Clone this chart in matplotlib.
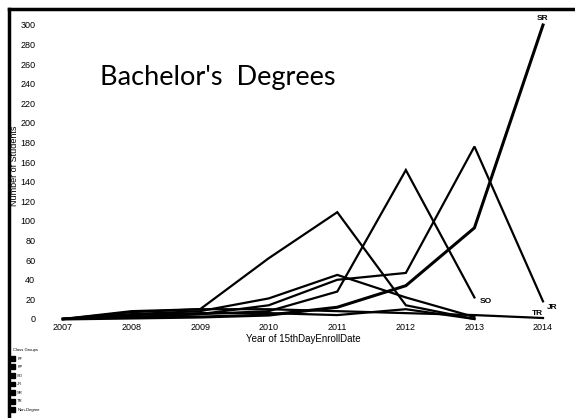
import numpy as np
import matplotlib
matplotlib.use('Agg')
from matplotlib import pyplot as plt
from matplotlib.patches import Patch
from matplotlib.lines import Line2D

years = [2007, 2008, 2009, 2010, 2011, 2012, 2013, 2014]
nan = np.nan

# students by class group
ff = [0, 7, 10, 62, 109, 14, 0, nan]
fp = [0, 5, 8, 21, 45, 22, 2, nan]
so = [0, 2, 5, 8, 28, 152, 22, nan]
jr = [0, 2, 5, 14, 40, 47, 176, 18]
sr = [0, 1, 2, 4, 12, 34, 93, 300]
tr = [0, 8, 10, 10, 8, 6, 4, 1]
nondeg = [0, 4, 6, 6, 4, 10, 0, nan]

groups = ['FF', 'FP', 'SO', 'JR', 'SR', 'TR', 'Non-Degree']
series = [ff, fp, so, jr, sr, tr, nondeg]
yticks = list(range(0, 301, 20))

plt.rcParams['font.family'] = ['Liberation Sans', 'DejaVu Sans']

fig = plt.figure(figsize=(5.75, 4.18), dpi=100)
ax = fig.add_axes([63 / 575, 99 / 418, 480 / 575, 294 / 418])

for name, vals in zip(groups, series):
    lw = 2.2 if name == 'SR' else 1.6
    ax.plot(years, vals, color='black', linewidth=lw, clip_on=False,
            solid_joinstyle='miter')

ax.set_xlim(2007, 2014)
ax.set_ylim(0, 300)
ax.set_xticks(years)
ax.set_yticks(yticks)
ax.tick_params(length=0, labelsize=6.5)
ax.tick_params(axis='y', pad=20)
ax.tick_params(axis='x', pad=3)
for s in ax.spines.values():
    s.set_visible(False)

ax.set_xlabel('Year of 15thDayEnrollDate', fontsize=7, labelpad=1)
fig.text(15 / 575, 1 - 166 / 418, 'Number of Students', rotation=90,
         fontsize=6.5, ha='center', va='center')

# end-of-line labels
ax.text(2014, sr[7] + 3, 'SR', fontsize=6, fontweight='bold', ha='center', va='bottom')
ax.text(2013.08, so[6] - 4, 'SO', fontsize=6, fontweight='bold', ha='left', va='center')
ax.text(2014.05, jr[7] - 6, 'JR', fontsize=6, fontweight='bold', ha='left', va='center')
ax.text(2014.0, tr[7] + 5, 'TR', fontsize=6, fontweight='bold', ha='right', va='center')

fig.text(100 / 575, 1 - 78 / 418, "Bachelor's  Degrees", fontsize=19.5,
         family=['Lato', 'DejaVu Sans'], ha='left', va='center')

# tiny legend bottom-left
handles = [Patch(facecolor='black', edgecolor='black') for _ in groups]
leg = fig.legend(handles, groups, title='Class Groups', loc='lower left',
                 bbox_to_anchor=(8 / 575, 3 / 418), fontsize=3, title_fontsize=3,
                 frameon=False, handlelength=0.9, handleheight=1.4,
                 labelspacing=0.9, handletextpad=0.6, borderpad=0.2)

# scanned frame on top and left
fig.add_artist(Line2D([9 / 575, 1], [1 - 9 / 418, 1 - 9 / 418], color='black',
                      linewidth=2.5, transform=fig.transFigure))
fig.add_artist(Line2D([9 / 575, 9 / 575], [0, 1 - 9 / 418], color='black',
                      linewidth=2.5, transform=fig.transFigure))

fig.savefig('out.png', dpi=100)
